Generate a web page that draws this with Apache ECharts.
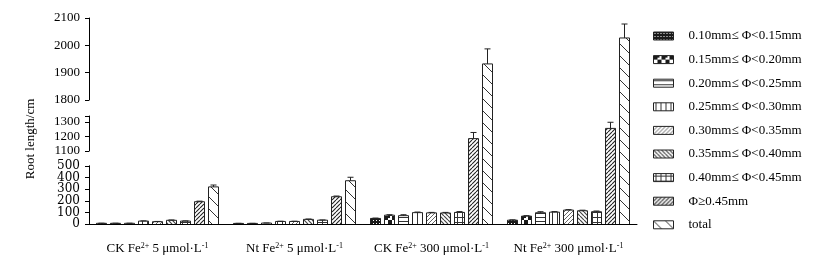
<!DOCTYPE html>
<html>
<head>
<meta charset="utf-8">
<script src="https://cdn.jsdelivr.net/npm/echarts@6/dist/echarts.min.js"></script>
<style>
  html, body { margin: 0; background: #fff; }
  #chart { width: 814px; height: 260px; }
</style>
</head>
<body>
<div id="chart"></div>
<script>
// categories (treatments)
const categories = [
  "CK Fe2+ 5 μmol·L-1",
  "Nt Fe2+ 5 μmol·L-1",
  "CK Fe2+ 300 μmol·L-1",
  "Nt Fe2+ 300 μmol·L-1",
];

// root diameter classes
const classNames = [
  "0.10mm≤ Φ<0.15mm",
  "0.15mm≤ Φ<0.20mm",
  "0.20mm≤ Φ<0.25mm",
  "0.25mm≤ Φ<0.30mm",
  "0.30mm≤ Φ<0.35mm",
  "0.35mm≤ Φ<0.40mm",
  "0.40mm≤ Φ<0.45mm",
  "Φ≥0.45mm",
  "total",
];

// root length (cm), one value per category
const d010 = [6, 5, 48, 33];
const d015 = [6, 5, 76, 68];
const d020 = [6, 8, 72, 97];
const d025 = [25, 22, 98, 102];
const d030 = [20, 22, 96, 120];
const d035 = [32, 40, 95, 114];
const d040 = [25, 33, 100, 106];
const d045 = [192, 235, 1185, 1255];
const dTotal = [320, 373, 1932, 2027];

// error bars (upper half)
const e010 = [1, 1, 3, 3];
const e015 = [1, 1, 4, 4];
const e020 = [1, 1, 8, 9];
const e025 = [2, 2, 5, 5];
const e030 = [2, 2, 4, 4];
const e035 = [3, 3, 5, 5];
const e040 = [2, 2, 7, 6];
const e045 = [5, 6, 42, 42];
const eTotal = [16, 30, 55, 51];

// broken y axis: value ranges of the segments, bottom to top
const yRanges = [[0, 500], [500, 1100], [1100, 1340], [1340, 1800], [1800, 2100]];
const yShown = [true, false, true, false, true];

const values = [d010, d015, d020, d025, d030, d035, d040, d045, dTotal];
const errors = [e010, e015, e020, e025, e030, e035, e040, e045, eTotal];

// layout of the segments (px)
const segBox = [
  { top: 166, height: 58 },
  { top: 151, height: 15 },
  { top: 116, height: 35 },
  { top: 100, height: 16 },
  { top: 18, height: 82 },
];

const SERIF = "'Liberation Serif', 'Times New Roman', serif";
const INK = "#222";
const BAR_W = 10;
const BAR_STEP = 14;

function makePattern(k) {
  const s = [3, 8, 4, 5, 4, 4, 5, 4, 12][k];
  const c = document.createElement("canvas");
  c.width = c.height = s;
  const g = c.getContext("2d");
  g.fillStyle = "#fff";
  g.fillRect(0, 0, s, s);
  g.strokeStyle = "#333";
  g.fillStyle = "#1a1a1a";
  g.lineWidth = 1;
  const slash = (dir) => {
    g.beginPath();
    for (const o of [-s, 0, s]) {
      if (dir > 0) { g.moveTo(o, s); g.lineTo(o + s, 0); }
      else { g.moveTo(o, 0); g.lineTo(o + s, s); }
    }
    g.stroke();
  };
  switch (k) {
    case 0:
      g.fillRect(0, 0, s, s);
      g.fillStyle = "#fff";
      g.fillRect(1, 1, 1, 1);
      break;
    case 1:
      g.fillRect(0, 0, 4, 4);
      g.fillRect(4, 4, 4, 4);
      g.fillRect(4, 0, 2, 2);
      break;
    case 2:
      g.beginPath(); g.moveTo(0, 1.5); g.lineTo(s, 1.5); g.stroke();
      break;
    case 3:
      g.beginPath(); g.moveTo(2.5, 0); g.lineTo(2.5, s); g.stroke();
      break;
    case 4:
      g.strokeStyle = "#666";
      slash(1);
      break;
    case 5:
      g.strokeStyle = "#444";
      g.lineWidth = 1.2;
      slash(-1);
      break;
    case 6:
      g.beginPath();
      g.moveTo(2.5, 0); g.lineTo(2.5, s);
      g.moveTo(0, 2.5); g.lineTo(s, 2.5);
      g.stroke();
      break;
    case 7:
      g.strokeStyle = "#222";
      g.lineWidth = 1.1;
      slash(1);
      break;
    case 8:
      g.strokeStyle = "#333";
      slash(-1);
      break;
  }
  return { image: c, repeat: "repeat" };
}

const patterns = classNames.map((_, k) => makePattern(k));

// one data row per bar: [category, class, value, error]
const barRows = [];
values.forEach((arr, k) =>
  arr.forEach((v, i) => barRows.push([i, k, v, errors[k][i]])),
);

function renderSegment(seg) {
  const [lo, hi] = yRanges[seg];
  return function (params, api) {
    const cat = api.value(0);
    const k = api.value(1);
    const v = api.value(2);
    const e = api.value(3);
    const kids = [];
    if (v <= lo) return { type: "group", children: kids };
    const base = api.coord([cat, lo]);
    const cx = base[0] + (k - 4) * BAR_STEP;
    const x0 = cx - BAR_W / 2;
    const x1 = cx + BAR_W / 2;
    const top = api.coord([cat, Math.min(v, hi)])[1];
    const line = { stroke: INK, lineWidth: 1 };
    kids.push({
      type: "rect",
      shape: { x: x0, y: top, width: BAR_W, height: base[1] - top },
      style: { fill: patterns[k] },
    });
    kids.push({ type: "line", shape: { x1: x0, y1: base[1], x2: x0, y2: top }, style: line });
    kids.push({ type: "line", shape: { x1: x1, y1: base[1], x2: x1, y2: top }, style: line });
    if (v <= hi) {
      kids.push({ type: "line", shape: { x1: x0, y1: top, x2: x1, y2: top }, style: line });
      const et = api.coord([cat, Math.min(v + e, hi)])[1];
      kids.push({ type: "line", shape: { x1: cx, y1: top, x2: cx, y2: et }, style: line });
      kids.push({ type: "line", shape: { x1: cx - 3, y1: et, x2: cx + 3, y2: et }, style: line });
    }
    return { type: "group", children: kids };
  };
}

const grid = segBox.map((b) => ({
  left: 89,
  right: 177,
  top: b.top,
  height: b.height,
  outerBoundsMode: "none",
}));

const xAxis = segBox.map((b, i) => ({
  type: "category",
  gridIndex: i,
  data: categories,
  show: i === 0,
  axisLine: { lineStyle: { color: "#000", width: 1 } },
  axisTick: { inside: true, length: 6, lineStyle: { color: "#999" } },
  axisLabel: {
    interval: 0,
    hideOverlap: false,
    margin: 18,
    formatter: (v) => {
      const m = v.match(/^(\S+) Fe2\+ (\d+) μmol·L-1$/);
      return `{n|${m[1]} Fe}{s|2+}{n| ${m[2]} μmol·L}{s|-1}`;
    },
    rich: {
      n: { fontFamily: SERIF, fontSize: 13, color: "#000" },
      s: { fontFamily: SERIF, fontSize: 8, color: "#000", verticalAlign: "top" },
    },
  },
}));

function makeYAxis(gridIndex, keep) {
  const [lo, hi] = yRanges[gridIndex];
  const low = gridIndex === 0;
  return {
    type: "value",
    gridIndex,
    position: "left",
    offset: 0,
    min: lo,
    max: hi,
    interval: 100,
    show: yShown[gridIndex],
    splitLine: { show: false },
    axisLine: { show: true, lineStyle: { color: "#000", width: 1 } },
    axisTick: { show: true, length: 4, lineStyle: { color: "#000" } },
    axisLabel: {
      margin: 9,
      color: "#000",
      showMinLabel: true,
      showMaxLabel: true,
      hideOverlap: false,
      fontFamily: low ? "'DejaVu Serif', serif" : SERIF,
      fontSize: low ? 12 : 13,
      formatter: (v) => (keep(v) ? String(v) : ""),
    },
  };
}

const yAxis = yRanges.map((_, i) =>
  makeYAxis(i, (v) => v % 100 === 0 && (i !== 0 || v % 200 === 0)),
);
// second label row for the lowest segment (odd hundreds), same position
yAxis.push(makeYAxis(0, (v) => v % 200 === 100));

const series = [];
// legend carriers
classNames.forEach((name, k) => {
  series.push({
    name,
    type: "bar",
    xAxisIndex: 0,
    yAxisIndex: 0,
    data: [],
    itemStyle: { color: patterns[k], borderColor: INK, borderWidth: 1 },
  });
});
// bars and error bars, drawn segment by segment
yRanges.forEach((_, i) => {
  series.push({
    type: "custom",
    name: "bars" + i,
    xAxisIndex: i,
    yAxisIndex: i,
    renderItem: renderSegment(i),
    encode: { x: 0, y: 2 },
    data: barRows,
    silent: true,
  });
});

const chart = echarts.init(document.getElementById("chart"), null, { renderer: "canvas" });
chart.setOption({
  animation: false,
  backgroundColor: "#fff",
  textStyle: { fontFamily: SERIF },
  grid,
  xAxis,
  yAxis,
  legend: {
    data: classNames,
    orient: "vertical",
    left: 653,
    top: 29,
    padding: 0,
    icon: "rect",
    itemWidth: 20,
    itemHeight: 8,
    itemGap: 9.6,
    selectedMode: false,
    itemStyle: { borderColor: INK, borderWidth: 1 },
    textStyle: {
      fontFamily: SERIF,
      fontSize: 13,
      color: "#000",
      lineHeight: 14,
      padding: [0, 0, 0, 10],
    },
  },
  graphic: [
    {
      type: "text",
      x: 31,
      y: 139,
      rotation: Math.PI / 2,
      style: {
        text: "Root length/cm",
        fontFamily: SERIF,
        fontSize: 13,
        fill: "#000",
        align: "center",
        verticalAlign: "middle",
      },
    },
  ],
  series,
});
window.addEventListener("resize", () => chart.resize());
</script>
</body>
</html>
